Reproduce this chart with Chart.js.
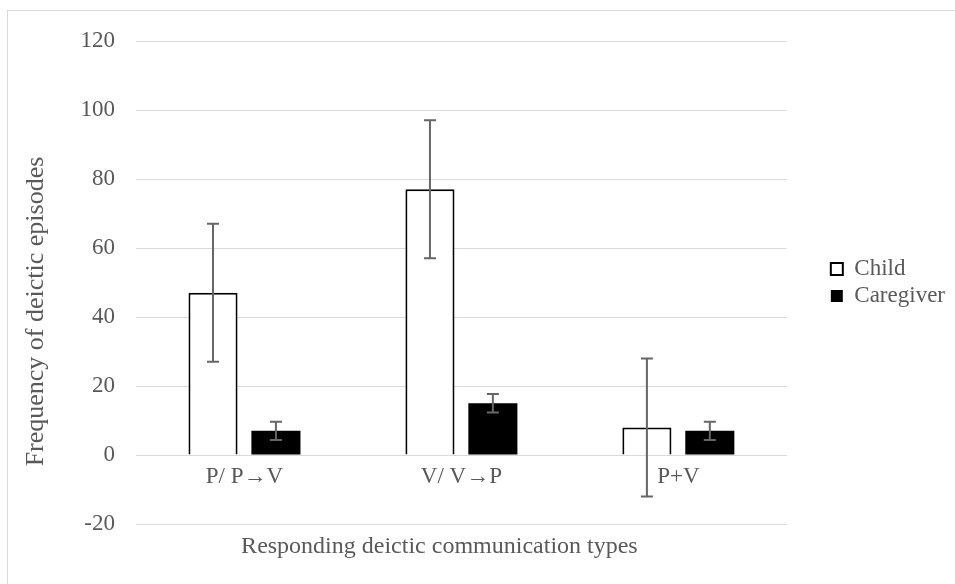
<!DOCTYPE html>
<html>
<head>
<meta charset="utf-8">
<script src="https://cdn.jsdelivr.net/npm/chart.js@4.4.0/dist/chart.umd.min.js"></script>
<style>
    html, body { margin: 0; padding: 0; background: #fff; overflow: hidden; }
    #wrap { position: relative; width: 955px; height: 584px; }
    #frame { position: absolute; left: 7px; top: 10px; width: 1000px; height: 700px; border: 1px solid #d9d9d9; box-sizing: border-box; }
    canvas { position: absolute; left: 0; top: 0; }
</style>
</head>
<body>
<div id="wrap">
    <div id="frame"></div>
    <canvas id="deicticChart" width="955" height="584"></canvas>
</div>
<script>
// Chart data
const categories = ['P/ P\u2192V', 'V/ V\u2192P', 'P+V'];
const childValues = [47, 77, 8];
const childErrors = [20, 20, 20];
const caregiverValues = [7, 15, 7];
const caregiverErrors = [2.65, 2.65, 2.65];
const yTicks = [-20, 0, 20, 40, 60, 80, 100, 120];
const xTitle = 'Responding deictic communication types';
const yTitle = 'Frequency of deictic episodes';

const textColor = '#595959';
const fontFamily = '"Liberation Serif", "Times New Roman", serif';

// Draws error bars on top of each bar using the chart's own scales
const errorBarPlugin = {
    id: 'errorBars',
    afterDatasetsDraw(chart) {
        const ctx = chart.ctx;
        const yScale = chart.scales.y;
        chart.data.datasets.forEach((ds, i) => {
            const meta = chart.getDatasetMeta(i);
            meta.data.forEach((bar, j) => {
                const v = ds.data[j];
                const e = ds.errors[j];
                const top = yScale.getPixelForValue(v + e);
                const bottom = yScale.getPixelForValue(v - e);
                ctx.save();
                ctx.strokeStyle = '#666666';
                ctx.lineWidth = 2;
                ctx.beginPath();
                ctx.moveTo(bar.x, top);
                ctx.lineTo(bar.x, bottom);
                ctx.moveTo(bar.x - 6, top);
                ctx.lineTo(bar.x + 6, top);
                ctx.moveTo(bar.x - 6, bottom);
                ctx.lineTo(bar.x + 6, bottom);
                ctx.stroke();
                ctx.restore();
            });
        });
    }
};

// x axis sits on the zero line, so both axis titles are drawn here
const axisTitlePlugin = {
    id: 'axisTitles',
    afterDraw(chart) {
        const ctx = chart.ctx;
        const area = chart.chartArea;
        ctx.save();
        ctx.fillStyle = textColor;
        ctx.textAlign = 'center';
        ctx.textBaseline = 'middle';
        ctx.font = '24px ' + fontFamily;
        ctx.fillText(xTitle, (area.left + area.right) / 2 - 22, area.bottom + 23);
        ctx.translate(36, (area.top + area.bottom) / 2 + 29);
        ctx.rotate(-Math.PI / 2);
        ctx.font = '26px ' + fontFamily;
        ctx.fillText(yTitle, 0, 0);
        ctx.restore();
    }
};

const ctx = document.getElementById('deicticChart');
new Chart(ctx, {
    type: 'bar',
    data: {
        labels: categories,
        datasets: [{
            label: 'Child',
            data: childValues,
            errors: childErrors,
            backgroundColor: '#ffffff',
            borderColor: '#000000',
            borderWidth: 2
        }, {
            label: 'Caregiver',
            data: caregiverValues,
            errors: caregiverErrors,
            backgroundColor: '#000000',
            borderColor: '#000000',
            borderWidth: 0
        }]
    },
    options: {
        responsive: false,
        animation: false,
        layout: {
            padding: { left: 20, right: 0, top: 41, bottom: 60 }
        },
        datasets: {
            bar: {
                categoryPercentage: 0.58,
                barPercentage: 0.78
            }
        },
        plugins: {
            legend: {
                display: true,
                position: 'right',
                labels: {
                    boxWidth: 12,
                    boxHeight: 12,
                    padding: 4,
                    color: textColor,
                    font: { family: fontFamily, size: 23 }
                }
            },
            tooltip: { enabled: false }
        },
        scales: {
            y: {
                min: -20,
                max: 120,
                afterBuildTicks(scale) {
                    scale.ticks = yTicks.map(v => ({ value: v }));
                },
                afterFit(scale) {
                    scale.width = 116;
                },
                ticks: {
                    color: textColor,
                    padding: 21,
                    font: { family: fontFamily, size: 23 }
                },
                grid: {
                    color: '#d9d9d9',
                    lineWidth: 1,
                    drawTicks: false
                },
                border: { display: false }
            },
            // empty spacer between the plot area and the legend
            gap: {
                type: 'linear',
                position: 'right',
                display: true,
                grid: { display: false },
                border: { display: false },
                ticks: { display: false },
                afterFit(scale) {
                    scale.width = 40;
                }
            },
            x: {
                position: { y: 0 },
                grid: { display: false, drawTicks: false },
                border: { display: true, color: '#d9d9d9', width: 1 },
                ticks: {
                    color: textColor,
                    padding: 8,
                    font: { family: fontFamily, size: 23 }
                }
            }
        }
    },
    plugins: [errorBarPlugin, axisTitlePlugin]
});
</script>
</body>
</html>
